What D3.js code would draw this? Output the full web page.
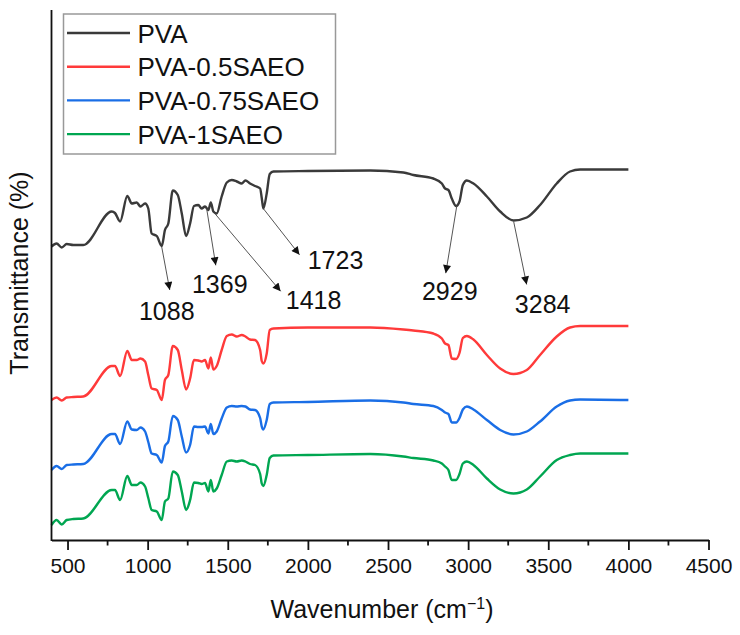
<!DOCTYPE html>
<html>
<head>
<meta charset="utf-8">
<script src="https://cdn.jsdelivr.net/npm/d3@7/dist/d3.min.js"></script>
<style>
  body { margin: 0; background: #fff; }
  svg text { font-family: "Liberation Sans", Arial, sans-serif; fill: #111; }
</style>
</head>
<body>
<svg id="chart" width="740" height="635"></svg>
<script>
// wavenumber grid (cm-1), shared by all four spectra
var wavenumbers = [400, 432, 464, 495, 536, 598, 776, 796, 828, 873, 901, 932, 955, 984, 1004, 1025, 1057, 1088,
  1108, 1129, 1157, 1188, 1213, 1240, 1265, 1289, 1316, 1337, 1358, 1379, 1394, 1410, 1431, 1462, 1494, 1525,
  1556, 1587, 1610, 1639, 1670, 1702, 1712, 1722, 1743, 1762, 1785, 2000, 2390, 2596, 2658, 2783, 2836, 2856,
  2877, 2898, 2925, 2946, 2967, 2992, 3033, 3117, 3200, 3283, 3366, 3449, 3553, 3636, 3699, 4000];

// transmittance (offset, a.u.)
var pva = [58.7, 59.3, 58.5, 59.2, 59.0, 59.0, 65.7, 65.4, 63.7, 68.8, 67.3, 67.5, 66.7, 67.3, 66.3, 61.3, 60.8, 58.8,
  62.0, 63.3, 69.9, 69.0, 65.3, 60.8, 63.3, 66.8, 67.0, 66.3, 66.7, 66.0, 67.5, 65.7, 65.3, 68.7, 71.5, 72.0,
  71.7, 71.3, 71.9, 71.3, 70.8, 70.3, 68.4, 66.3, 69.3, 73.2, 73.7, 73.8, 73.9, 73.5, 73.0, 72.3, 71.3, 70.3,
  70.0, 68.3, 66.8, 67.7, 71.0, 71.9, 71.3, 68.7, 65.7, 63.9, 64.5, 67.0, 71.3, 73.7, 74.1, 74.1];

var pva05 = [28.0, 28.5, 27.9, 28.5, 28.6, 28.7, 34.8, 34.8, 32.8, 37.8, 36.0, 36.0, 36.3, 35.7, 33.0, 30.3, 30.0, 28.0,
  32.0, 33.0, 38.8, 38.0, 34.0, 30.1, 32.3, 36.0, 35.9, 35.7, 36.0, 34.3, 36.5, 34.1, 34.8, 38.0, 40.8, 41.1,
  40.7, 41.0, 40.7, 40.1, 40.0, 38.0, 35.8, 35.3, 37.3, 42.0, 42.3, 42.5, 42.5, 42.1, 41.9, 41.3, 40.3, 39.3,
  39.0, 36.3, 36.2, 37.4, 40.4, 40.8, 40.1, 37.0, 34.3, 33.2, 34.0, 37.0, 40.7, 42.5, 42.8, 42.8];

var pva075 = [14.0, 14.8, 14.2, 15.0, 15.1, 15.2, 21.2, 21.2, 19.2, 23.7, 22.1, 22.0, 22.5, 21.7, 19.6, 17.3, 17.0, 15.5,
  18.8, 19.7, 24.8, 24.0, 20.7, 17.5, 19.0, 22.7, 22.6, 22.6, 22.7, 21.3, 23.2, 21.2, 21.7, 24.3, 26.5, 26.8,
  26.7, 26.8, 26.7, 26.1, 26.0, 24.4, 22.7, 22.1, 24.0, 27.2, 27.5, 27.6, 27.9, 27.5, 27.2, 26.8, 26.0, 25.5,
  25.2, 23.5, 23.5, 24.4, 26.1, 26.7, 26.1, 24.0, 22.0, 21.1, 21.7, 23.7, 26.7, 27.9, 28.1, 28.0];

var pva1 = [3.0, 4.0, 3.1, 4.0, 4.2, 4.3, 10.0, 10.0, 8.0, 12.8, 11.0, 11.0, 11.5, 10.7, 8.4, 6.0, 5.7, 4.0,
  7.7, 8.3, 13.7, 13.0, 9.7, 6.0, 8.0, 11.5, 11.4, 11.2, 11.4, 9.7, 12.0, 9.7, 10.3, 13.0, 15.7, 15.9,
  15.7, 15.9, 15.7, 15.2, 15.0, 13.2, 11.3, 10.8, 13.0, 16.4, 16.9, 17.0, 17.2, 16.7, 16.4, 15.9, 15.3, 14.7,
  14.0, 12.0, 12.0, 13.2, 15.3, 15.7, 15.0, 12.3, 10.1, 9.3, 10.1, 12.7, 16.0, 17.0, 17.3, 17.3];

var seriesNames = ["PVA", "PVA-0.5SAEO", "PVA-0.75SAEO", "PVA-1SAEO"];
var seriesColors = ["#3a3a3a", "#ff3a3a", "#1a6ee6", "#00a651"];
var seriesValues = [pva, pva05, pva075, pva1];

var xTicks = [500, 1000, 1500, 2000, 2500, 3000, 3500, 4000, 4500];
var xMinorTicks = [750, 1250, 1750, 2250, 2750, 3250, 3750, 4250];

// peak labels on the PVA curve
var peakLabels = [1088, 1369, 1418, 1723, 2929, 3284];
// callout layout: arrow tip and text offset from the peak, in px
var calloutOffsets = [
  {tx: 8, ty: 43, lx: 5, ly: 73},
  {tx: 9, ty: 56, lx: 13, ly: 84},
  {tx: 66, ty: 78, lx: 99, ly: 96},
  {tx: 36, ty: 46, lx: 72, ly: 60},
  {tx: -11, ty: 67, lx: -7, ly: 94},
  {tx: 13, ty: 63, lx: 29, ly: 92}
];

var svg = d3.select("#chart");

var x = d3.scaleLinear().domain([400, 4500]).range([51.5, 708.5]);
var y = d3.scaleLinear().domain([0, 106]).range([540, 10]);

// spectra
var line = d3.line()
  .x(function(d, i) { return x(wavenumbers[i]); })
  .y(function(d) { return y(d); })
  .curve(d3.curveMonotoneX);

seriesValues.forEach(function(vals, k) {
  svg.append("path")
    .attr("d", line(vals))
    .attr("fill", "none")
    .attr("stroke", seriesColors[k])
    .attr("stroke-width", 2.4)
    .attr("stroke-linejoin", "round");
});

// bottom axis
var gx = svg.append("g")
  .attr("transform", "translate(0,540)")
  .call(d3.axisBottom(x).tickValues(xTicks).tickSize(10).tickSizeOuter(0).tickPadding(8).tickFormat(d3.format("d")));
gx.select(".domain").attr("stroke", "#111").attr("stroke-width", 1.8);
gx.selectAll(".tick line").attr("stroke", "#111").attr("stroke-width", 1.8);
gx.selectAll(".tick text").style("font-size", "21px").attr("fill", "#111");

svg.append("g").selectAll("line")
  .data(xMinorTicks)
  .join("line")
  .attr("x1", function(d) { return x(d); })
  .attr("x2", function(d) { return x(d); })
  .attr("y1", 540)
  .attr("y2", 545.5)
  .attr("stroke", "#111")
  .attr("stroke-width", 1.8);

// left axis (no ticks)
svg.append("line")
  .attr("x1", x(400)).attr("x2", x(400))
  .attr("y1", 10).attr("y2", 541)
  .attr("stroke", "#111")
  .attr("stroke-width", 1.8);

// axis titles
var title = svg.append("text")
  .attr("x", 382)
  .attr("y", 618)
  .attr("text-anchor", "middle")
  .style("font-size", "25px");
title.append("tspan").text("Wavenumber (cm");
title.append("tspan").text("\u22121").attr("dy", -9).style("font-size", "16px");
title.append("tspan").text(")").attr("dy", 9);

svg.append("text")
  .attr("transform", "translate(28,273) rotate(-90)")
  .attr("text-anchor", "middle")
  .style("font-size", "25px")
  .text("Transmittance (%)");

// callouts
svg.append("defs").append("marker")
  .attr("id", "arrow")
  .attr("viewBox", "0 0 10 10")
  .attr("refX", 10).attr("refY", 5)
  .attr("markerWidth", 10).attr("markerHeight", 8)
  .attr("markerUnits", "userSpaceOnUse")
  .attr("orient", "auto")
  .append("path")
  .attr("d", "M0,0 L10,5 L0,10 Z")
  .attr("fill", "#111");

function pvaAt(wn) {
  var i = d3.bisector(function(d) { return d; }).left(wavenumbers, wn);
  if (i <= 0) return pva[0];
  var t = (wn - wavenumbers[i - 1]) / (wavenumbers[i] - wavenumbers[i - 1]);
  return pva[i - 1] + t * (pva[i] - pva[i - 1]);
}

peakLabels.forEach(function(p, k) {
  var o = calloutOffsets[k];
  var sx = x(p), sy = y(pvaAt(p)) + 1;
  svg.append("line")
    .attr("x1", sx).attr("y1", sy)
    .attr("x2", sx + o.tx).attr("y2", sy + o.ty)
    .attr("stroke", "#555")
    .attr("stroke-width", 1)
    .attr("marker-end", "url(#arrow)");
  svg.append("text")
    .attr("x", sx + o.lx)
    .attr("y", sy + o.ly)
    .attr("text-anchor", "middle")
    .style("font-size", "25px")
    .text(p);
});

// legend
var legend = svg.append("g");
legend.append("rect")
  .attr("x", 63.5).attr("y", 14)
  .attr("width", 272).attr("height", 140)
  .attr("fill", "#fff")
  .attr("stroke", "#999")
  .attr("stroke-width", 1.5);

seriesNames.forEach(function(name, k) {
  var cy = 33 + k * 33.7;
  legend.append("line")
    .attr("x1", 67).attr("x2", 130)
    .attr("y1", cy).attr("y2", cy)
    .attr("stroke", seriesColors[k])
    .attr("stroke-width", 2.4);
  legend.append("text")
    .attr("x", 137.5)
    .attr("y", cy + 9.5)
    .style("font-size", "26px")
    .text(name);
});
</script>
</body>
</html>
